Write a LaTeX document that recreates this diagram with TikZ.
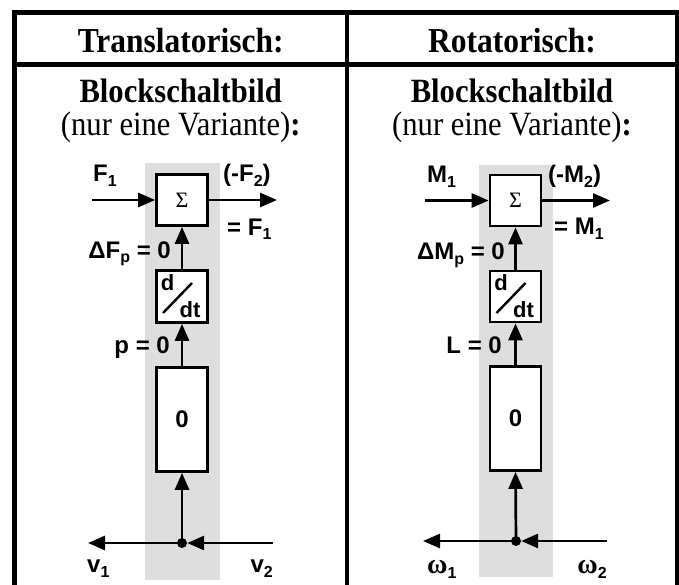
\documentclass[tikz,border=0pt]{standalone}
\usepackage{fontspec}
\setmainfont{Liberation Serif}
\setsansfont{Liberation Sans}
\usetikzlibrary{arrows.meta}
\newcommand\sbs[1]{\raisebox{-5pt}{\fontsize{16}{16}\selectfont #1}}
\newcommand\hx[1]{\scalebox{0.9}[1]{#1}}
\newcommand\ddtlabel[1]{%
  \node[ddt, anchor=base] at ([shift={(-14.5,-6.5)}]#1.center) {d};
  \draw[line width=2.4pt] ([shift={(-19,16.5)}]#1.center) -- ([shift={(10,-13.5)}]#1.center);
  \node[ddt, anchor=base] at ([shift={(8,20.5)}]#1.center) {dt};}
\begin{document}
\begin{tikzpicture}[x=1pt,y=-1pt,
  frame/.style={line width=4.5pt},
  head/.style={font=\fontsize{35}{38}\selectfont\bfseries, inner sep=0, anchor=base},
  subhead/.style={font=\fontsize{34}{33}\selectfont, inner sep=0, align=center, anchor=base},
  blk/.style={draw, line width=2.7pt, fill=white, minimum width=51pt, inner sep=0},
  arr/.style={line width=2.7pt, -{Triangle[length=17pt,width=14pt]}},
  lbl/.style={font=\sffamily\bfseries\fontsize{24}{26}\selectfont, inner sep=0},
  ddt/.style={font=\sffamily\bfseries\fontsize{22}{22}\selectfont, inner sep=0},
  dot/.style={circle, fill, inner sep=0, minimum size=10pt},
  band/.style={fill=black!13, draw=none}]
\useasboundingbox (0,0) rectangle (679,585);
% table frame
\draw[frame, line join=miter] (14.5,585) -- (14.5,12.5) -- (677,12.5) -- (677,585);
\draw[frame] (347,12.5) -- (347,585);
\draw[frame] (14.5,64.7) -- (677,64.7);
% headers
\node[head] (h1) at (180.75,53) {\hx{Translatorisch:}};
\node[head] (h2) at (512,53) {\hx{Rotatorisch:}};
\node[subhead] (b1) at (180.75,136) {\hx{\textbf{Blockschaltbild}}\\\hx{(nur eine Variante)\textbf{:}}};
\node[subhead] (b2) at (512,136) {\hx{\textbf{Blockschaltbild}}\\\hx{(nur eine Variante)\textbf{:}}};

% ---------- left diagram ----------
\fill[band] (145,163) rectangle (220,580);
\node[blk, minimum height=51pt] (s1) at (182,200) {\fontsize{22}{22}\selectfont Σ};
\node[blk, minimum height=52pt] (d1) at (182,296.5) {};
\ddtlabel{d1}
\node[blk, minimum height=104pt] (z1) at (182,419.5) {\sffamily\bfseries\fontsize{24}{24}\selectfont 0};
\node[dot] (j1) at (182,543) {};
\coordinate (in1) at (92,200);
\coordinate (out1) at (277,200);
\coordinate (r1) at (273,543);
\coordinate (l1) at (88,543);
\draw[arr] (in1) -- (s1.west);
\draw[arr] (s1.east) -- (out1);
\draw[arr] (d1.north) -- (s1.south);
\draw[arr] (z1.north) -- (d1.south);
\draw[arr] (j1.center) -- (z1.south);
\draw[arr] (r1) -- (j1.east);
\draw[arr] (j1.center) -- (l1);
\node[lbl, anchor=base west] (F1) at (93,182) {F\sbs{1}};
\node[lbl, anchor=base west] (mF2) at (223,182) {(-F\sbs{2})};
\node[lbl, anchor=base west] (eF1) at (227,235) {= F\sbs{1}};
\node[lbl, anchor=base east] (dF) at (171,258) {ΔF\sbs{p} = 0};
\node[lbl, anchor=base east] (p0) at (170,353) {p = 0};
\node[lbl, anchor=base west] (v1) at (87,572) {v\sbs{1}};
\node[lbl, anchor=base east] (v2) at (273,572) {v\sbs{2}};

% ---------- right diagram ----------
\fill[band] (479,165) rectangle (553,577);
\node[blk, minimum height=51pt] (s2) at (515.5,200.5) {\fontsize{22}{22}\selectfont Σ};
\node[blk, minimum height=51pt] (d2) at (515.5,296.5) {};
\ddtlabel{d2}
\node[blk, minimum height=104pt] (z2) at (515.5,418.5) {\sffamily\bfseries\fontsize{24}{24}\selectfont 0};
\node[dot] (j2) at (516,541) {};
\coordinate (in2) at (425,200.5);
\coordinate (out2) at (610,200.5);
\coordinate (r2) at (607,541);
\coordinate (l2) at (423,541);
\draw[arr] (in2) -- (s2.west);
\draw[arr] (s2.east) -- (out2);
\draw[arr] (d2.north) -- (s2.south);
\draw[arr] (z2.north) -- (d2.south);
\draw[arr] (j2.center) -- (z2.south);
\draw[arr] (r2) -- (j2.east);
\draw[arr] (j2.center) -- (l2);
\node[lbl, anchor=base west] (M1) at (427,183) {M\sbs{1}};
\node[lbl, anchor=base west] (mM2) at (548,183) {(-M\sbs{2})};
\node[lbl, anchor=base west] (eM1) at (554,234) {= M\sbs{1}};
\node[lbl, anchor=base east] (dM) at (505,259) {ΔM\sbs{p} = 0};
\node[lbl, anchor=base east] (L0) at (502,353) {L = 0};
\node[lbl, anchor=base west] (w1) at (427,573) {{\rmfamily\fontsize{28}{28}\selectfont ω}\sbs{1}};
\node[lbl, anchor=base east] (w2) at (607,573) {{\rmfamily\fontsize{28}{28}\selectfont ω}\sbs{2}};
\end{tikzpicture}
\end{document}
